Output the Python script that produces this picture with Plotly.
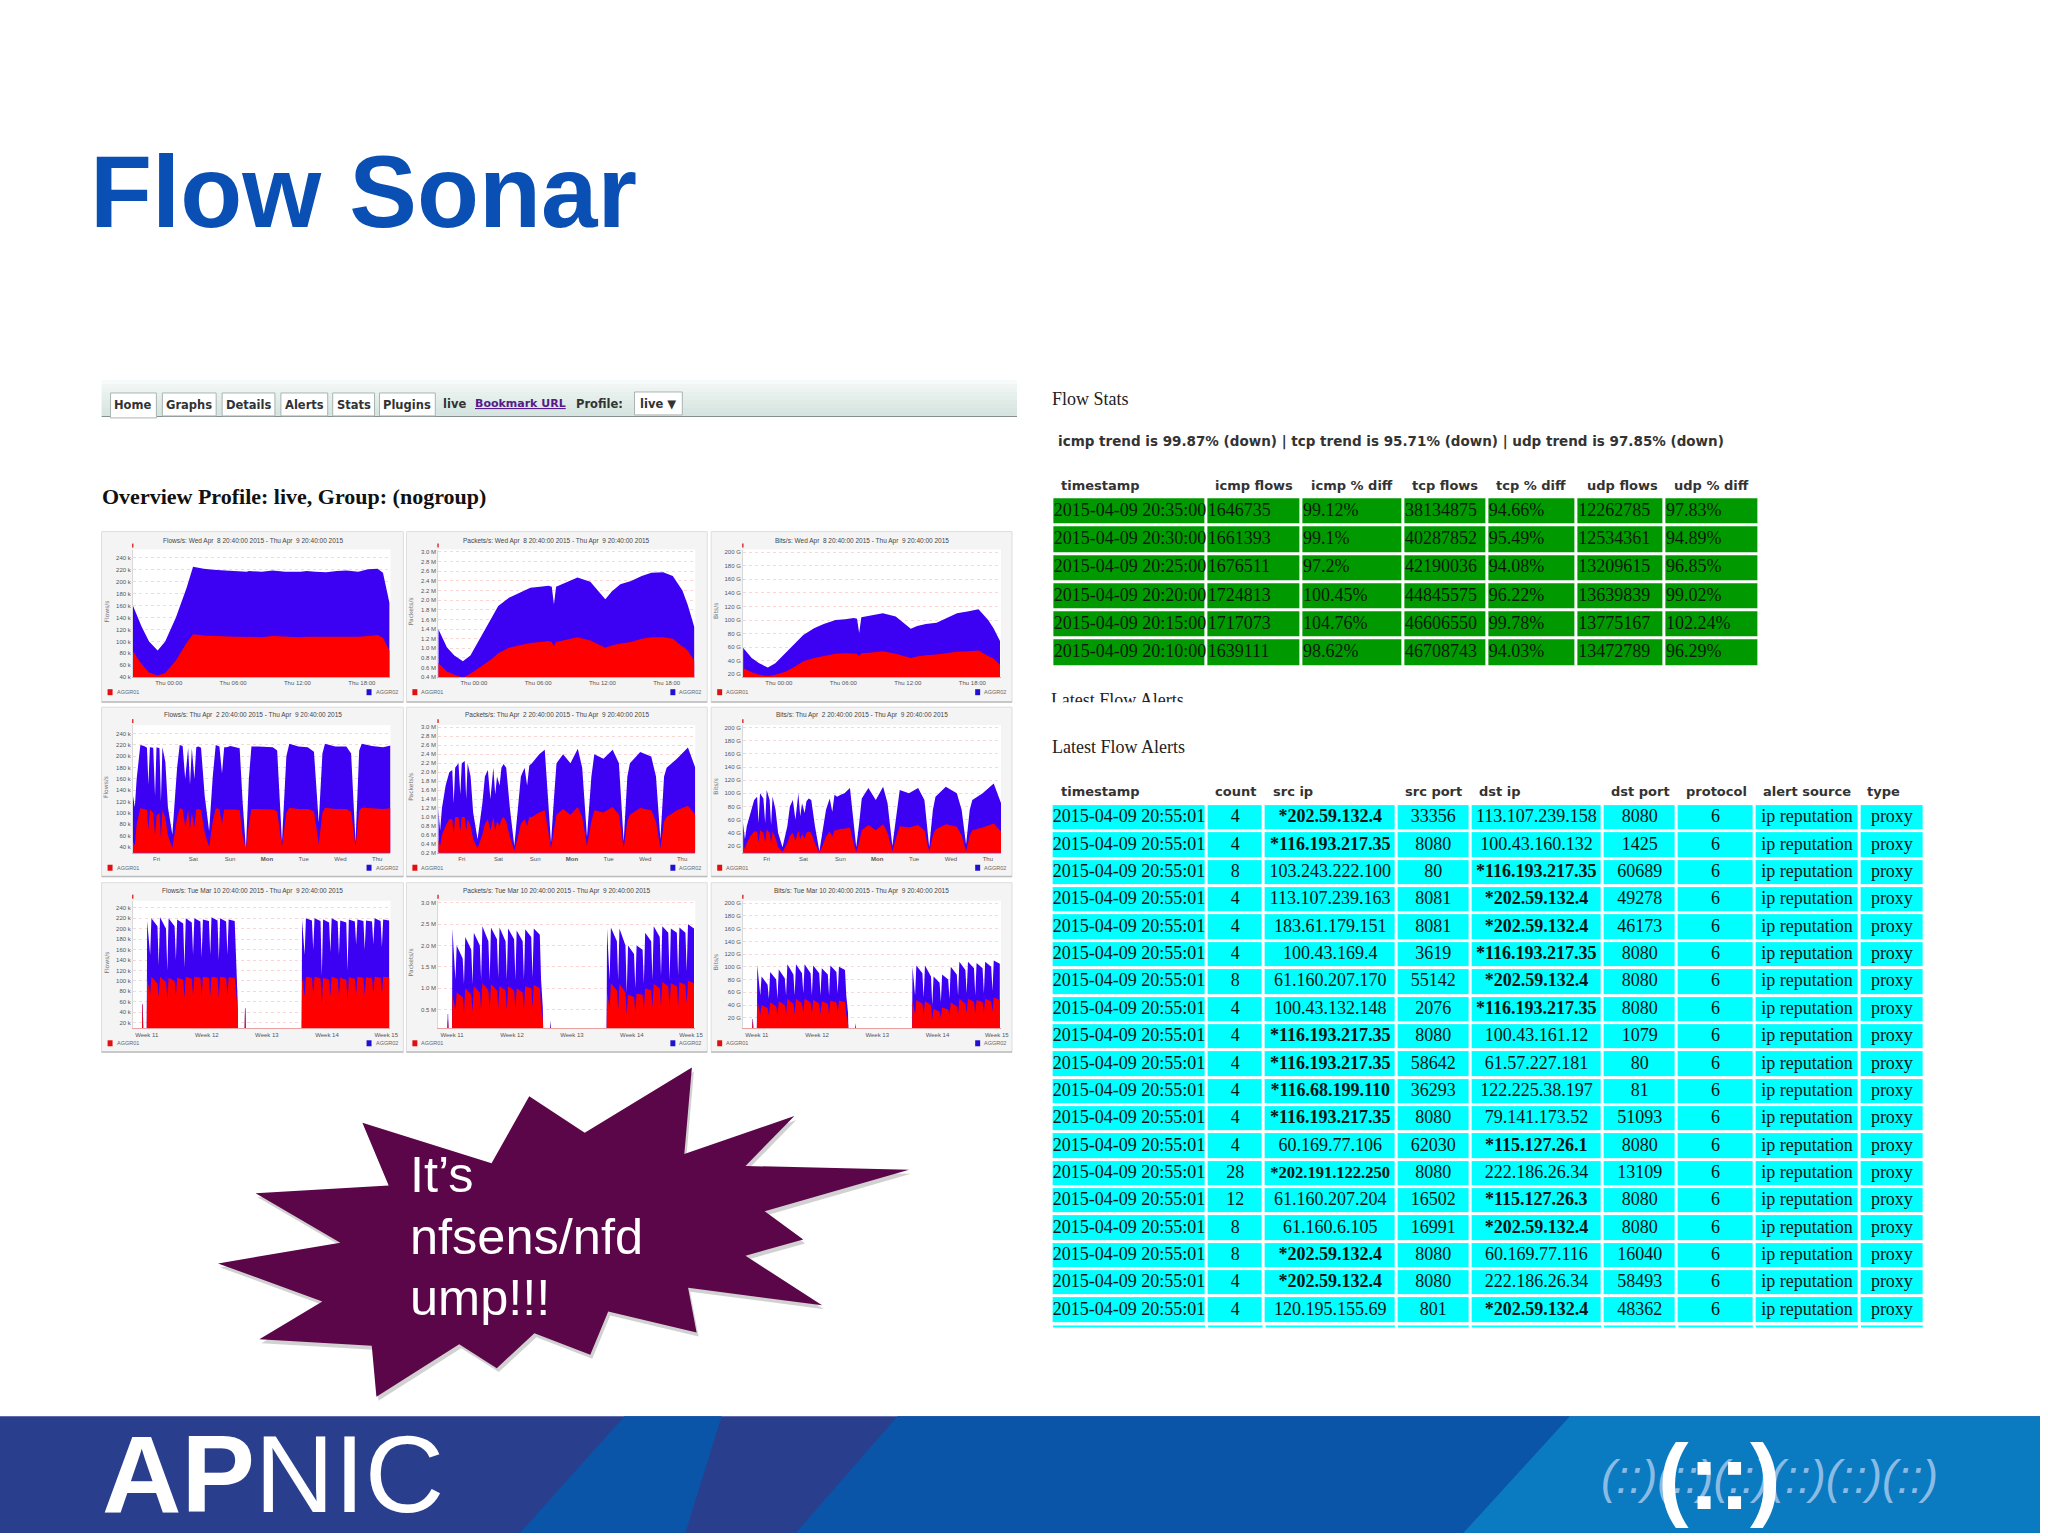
import plotly.graph_objects as go

# ---------- chart data ----------
hours_d = [0,0.8,1.5,2.3,3,4,5,5.6,6.6,7.5,8.6,9.5,10.3,10.6,10.8,11,12,13,14.2,15.6,16.2,17,18,19,19.9,21,21.9,22.8,23.3,23.9]
flows_d_total = [160,125,100,85,100,140,190,225,222,220,219,218,218,217,218,218,217,219,217,217,218,217,216,218,219,217,221,222,215,165]
flows_d_a = [83,62,48,43,47,68,98,112,110,109,108,108,108,107,108,108,107,109,108,107,108,108,107,108,108,108,109,111,106,85]
pkts_d_total = [1.4,1.02,.85,.73,.85,1.25,1.62,1.88,2.05,2.15,2.26,2.28,2.3,2.28,1.91,2.28,2.38,2.47,2.38,2.02,2.18,2.33,2.4,2.5,2.57,2.58,2.5,2.2,1.9,1.45]
pkts_d_a = [.7,.52,.45,.39,.47,.63,.78,.9,1.01,1.06,1.11,1.13,1.15,1.13,1.05,1.13,1.18,1.23,1.16,1.01,1.06,1.1,1.13,1.2,1.23,1.23,1.2,1.05,.95,.75]
bits_d_total = [59,44,36,30,36,52,68,78,88,94,100,101,103,102,81,104,107,110,105,87,91,94,96,103,110,113,116,100,88,69]
bits_d_a = [29,23,19,17,19,24,33,39,44,47,50,51,51,50,47,51,52,54,50,44,46,48,49,51,53,54,55,47,43,34]

days_w = [0,.05,.1,.2,.3,.38,.42,.46,.55,.6,.64,.72,.76,.8,.88,.95,
          1.07,1.2,1.27,1.35,1.42,1.5,1.55,1.6,1.67,1.72,1.78,1.85,1.95,
          2.07,2.17,2.25,2.35,2.42,2.48,2.55,2.65,2.75,2.9,2.98,
          3.07,3.15,3.22,3.4,3.6,3.8,3.92,
          4.05,4.17,4.25,4.5,4.75,4.92,
          5.05,5.15,5.22,5.5,5.8,5.93,
          6.05,6.15,6.22,6.5,6.8,7.0]
flows_w_total = [130,110,160,220,218,215,150,216,215,130,216,214,120,216,190,110,
                 62,180,220,218,160,215,150,214,160,216,217,215,130,
                 68,165,220,217,170,216,216,218,216,214,120,
                 36,160,217,217,217,216,210,
                 48,200,222,217,216,208,
                 83,205,222,217,217,205,
                 48,210,222,218,216,219]
flows_w_a = [50,42,80,108,107,105,70,106,100,60,95,100,55,105,90,60,
             38,90,108,107,75,105,72,100,75,106,107,105,65,
             40,85,108,107,80,106,106,107,106,105,60,
             36,80,107,107,107,106,103,
             40,100,109,107,107,103,
             45,100,109,107,107,102,
             40,104,109,108,107,108]
pkts_w_total = [1.2,.7,1.2,1.7,2.0,2.05,1.3,2.1,2.2,1.5,2.2,2.25,1.4,2.2,1.9,1.1,
                .5,1.3,1.9,2.05,1.4,2.1,1.5,1.9,1.7,2.1,2.18,2.1,1.2,
                .35,1.2,1.9,2.1,1.7,2.15,2.2,2.3,2.4,2.5,1.5,
                .42,1.4,2.2,2.4,2.2,2.52,2.1,
                .55,1.9,2.4,2.3,2.5,2.2,
                .45,1.9,2.2,2.45,2.35,1.9,
                .5,1.9,2.1,2.3,2.55,2.1]
pkts_w_a = [.5,.35,.6,.8,.95,.95,.65,1.0,1.0,.7,1.0,1.0,.7,.95,.8,.5,
            .3,.6,.85,.95,.7,1.0,.7,.9,.8,.95,1.0,.9,.55,
            .25,.55,.85,.95,.8,1.0,1.0,1.05,1.1,1.15,.7,
            .3,.7,1.05,1.18,1.05,1.22,1.0,
            .35,.9,1.15,1.1,1.22,1.05,
            .3,.9,1.05,1.2,1.15,.9,
            .3,.9,1.0,1.15,1.25,1.05]
bits_w_total = [55,30,50,72,90,95,55,100,92,55,105,90,52,95,75,40,
                18,50,80,90,60,100,65,85,70,88,92,90,50,
                12,45,75,92,72,98,95,98,100,108,60,
                18,55,92,108,90,110,85,
                20,75,105,100,108,90,
                18,75,95,110,100,75,
                22,75,90,100,115,85]
bits_w_a = [25,15,24,35,42,42,25,44,40,25,45,40,24,42,32,18,
            11,24,36,40,28,44,30,38,32,40,42,40,24,
            10,22,34,42,34,44,44,46,46,48,28,
            11,26,44,52,44,53,40,
            12,36,50,48,52,44,
            11,36,45,53,49,36,
            12,36,44,48,54,42]

days_m = [0,1.05,1.1,1.15,1.2,1.6,1.65,
          2,2.15,2.85,3,3.15,3.85,4,4.15,4.85,5,5.15,5.85,6,6.15,6.85,
          7,7.15,7.85,8,8.15,8.85,9,9.15,9.85,10,10.15,10.85,11,11.15,11.85,
          12,12.2,12.25,13,13.05,13.1,13.15,19.65,19.7,
          20,20.15,20.85,21,21.15,21.85,22,22.15,22.85,23,23.15,23.85,24,24.15,24.85,
          25,25.15,25.85,26,26.15,26.85,27,27.15,27.85,28,28.15,28.85,29,29.15,29.85]
flows_m_total = [0,0,55,55,0,0,215,
                 150,220,205,130,222,200,120,220,205,140,218,210,125,220,212,
                 150,220,214,145,218,215,150,222,216,140,220,214,150,218,215,
                 150,60,0,0,48,48,0,0,218,
                 150,220,216,160,220,215,110,218,212,155,220,214,150,216,212,
                 120,218,214,170,218,215,160,216,214,170,220,215,165,218,216]
flows_m_a = [0,0,55,55,0,0,105,
             75,108,95,70,108,98,65,106,100,72,106,102,68,108,104,
             72,108,106,70,108,106,72,108,106,68,108,106,72,107,106,
             75,45,0,0,45,45,0,0,108,
             70,108,106,75,108,105,55,106,102,70,108,104,70,106,102,
             60,107,104,75,108,106,72,107,105,75,108,106,74,108,107]
pkts_m_total = [0,0,.4,.4,0,0,2.4,
                1.2,2.0,1.7,1.1,2.2,1.9,1.1,2.3,2.0,1.2,2.45,2.1,1.2,2.42,2.15,
                1.25,2.42,2.1,1.2,2.4,2.15,1.2,2.35,2.1,1.2,2.38,2.2,1.25,2.4,2.25,
                1.2,.55,0,0,.25,.25,0,0,2.4,
                1.2,2.42,2.1,1.2,2.4,2.0,.9,2.0,1.8,1.0,2.0,1.9,1.1,2.3,2.1,
                1.2,2.45,2.2,1.3,2.45,2.3,1.2,2.4,2.3,1.3,2.42,2.3,1.4,2.5,2.4]
pkts_m_a = [0,0,.25,.25,0,0,.85,
            .5,.9,.8,.45,1.0,.85,.45,1.05,.9,.5,1.12,.95,.5,1.1,.95,
            .55,1.05,.95,.5,1.05,.95,.5,1.0,.9,.5,1.05,1.0,.55,1.08,1.0,
            .55,.3,0,0,.15,.15,0,0,.9,
            .55,1.12,.95,.5,1.1,.9,.4,.85,.8,.45,.88,.85,.5,1.0,.95,
            .55,1.1,1.0,.6,1.15,1.05,.55,1.12,1.05,.6,1.15,1.08,.65,1.18,1.12]
bits_m_total = [0,0,18,18,0,0,103,
                55,85,72,50,92,80,50,96,82,55,104,88,55,104,90,
                58,104,90,55,102,90,55,98,88,55,102,92,58,100,95,
                55,28,0,0,12,12,0,0,100,
                55,102,90,52,102,85,40,85,75,45,88,80,50,100,88,
                55,108,95,58,108,98,55,106,98,58,108,100,62,110,105]
bits_m_a = [0,0,14,14,0,0,48,
            25,40,35,24,44,38,24,46,40,26,50,42,26,50,43,
            28,50,44,26,48,43,26,46,42,26,47,44,28,47,45,
            25,12,0,0,8,8,0,0,46,
            26,48,42,24,46,40,18,34,30,20,36,33,24,44,38,
            26,50,42,28,50,45,26,48,45,28,50,46,30,52,48]

ticks_d_pos = [3.33,9.33,15.33,21.33]
ticks_d_txt = ["Thu 00:00","Thu 06:00","Thu 12:00","Thu 18:00"]
ticks_w_pos = [0.64,1.64,2.64,3.64,4.64,5.64,6.64]
ticks_w_txt = ["Fri","Sat","Sun","<b>Mon</b>","Tue","Wed","Thu"]
ticks_m_pos = [1.6,8.6,15.6,22.6,29.5]
ticks_m_txt = ["Week 11","Week 12","Week 13","Week 14","Week 15"]

title_ranges = ["Wed Apr  8 20:40:00 2015 - Thu Apr  9 20:40:00 2015",
                "Thu Apr  2 20:40:00 2015 - Thu Apr  9 20:40:00 2015",
                "Tue Mar 10 20:40:00 2015 - Thu Apr  9 20:40:00 2015"]
metric_names = ["Flows/s", "Packets/s", "Bits/s"]

# Flow Stats table
fs_head = ["timestamp","icmp flows","icmp % diff","tcp flows","tcp % diff","udp flows","udp % diff"]
fs_time = ["2015-04-09 20:35:00","2015-04-09 20:30:00","2015-04-09 20:25:00","2015-04-09 20:20:00","2015-04-09 20:15:00","2015-04-09 20:10:00"]
fs_icmp = ["1646735","1661393","1676511","1724813","1717073","1639111"]
fs_icmp_d = ["99.12%","99.1%","97.2%","100.45%","104.76%","98.62%"]
fs_tcp = ["38134875","40287852","42190036","44845575","46606550","46708743"]
fs_tcp_d = ["94.66%","95.49%","94.08%","96.22%","99.78%","94.03%"]
fs_udp = ["12262785","12534361","13209615","13639839","13775167","13472789"]
fs_udp_d = ["97.83%","94.89%","96.85%","99.02%","102.24%","96.29%"]

# Latest Flow Alerts table
al_head = ["timestamp","count","src ip","src port","dst ip","dst port","protocol","alert source","type"]
al_count = ["4","4","8","4","4","4","8","4","4","4","4","4","4","28","12","8","8","4","4"]
al_src = ["<b>*202.59.132.4</b>","<b>*116.193.217.35</b>","103.243.222.100","113.107.239.163","183.61.179.151","100.43.169.4","61.160.207.170","100.43.132.148",
          "<b>*116.193.217.35</b>","<b>*116.193.217.35</b>","<b>*116.68.199.110</b>","<b>*116.193.217.35</b>","60.169.77.106","<b>*202.191.122.250</b>","61.160.207.204","61.160.6.105",
          "<b>*202.59.132.4</b>","<b>*202.59.132.4</b>","120.195.155.69"]
al_sport = ["33356","8080","80","8081","8081","3619","55142","2076","8080","58642","36293","8080","62030","8080","16502","16991","8080","8080","801"]
al_dst = ["113.107.239.158","100.43.160.132","<b>*116.193.217.35</b>","<b>*202.59.132.4</b>","<b>*202.59.132.4</b>","<b>*116.193.217.35</b>","<b>*202.59.132.4</b>","<b>*116.193.217.35</b>",
          "100.43.161.12","61.57.227.181","122.225.38.197","79.141.173.52","<b>*115.127.26.1</b>","222.186.26.34","<b>*115.127.26.3</b>","<b>*202.59.132.4</b>",
          "60.169.77.116","222.186.26.34","<b>*202.59.132.4</b>"]
al_dport = ["8080","1425","60689","49278","46173","8080","8080","8080","1079","80","81","51093","8080","13109","8080","8080","16040","58493","48362"]
al_time = "2015-04-09 20:55:01"
al_proto = "6"
al_source = "ip reputation"
al_type = "proxy"

for a, b in [(hours_d, flows_d_total),(hours_d, bits_d_a),(hours_d, pkts_d_a),(days_w, flows_w_total),(days_w, flows_w_a),(days_w, pkts_w_total),
             (days_w, pkts_w_a),(days_w, bits_w_total),(days_w, bits_w_a),(days_m, flows_m_total),(days_m, flows_m_a),(days_m, pkts_m_total),
             (days_m, pkts_m_a),(days_m, bits_m_total),(days_m, bits_m_a)]:
    assert len(a) == len(b), (len(a), len(b))

# ---------- page layout constants ----------
W, H = 2048, 1536
RED, BLUE = "#ff0000", "#3c00f2"
SERIF, SANS, VERD = "Liberation Serif", "Liberation Sans", "DejaVu Sans"
NARROW = "Liberation Sans Narrow, Liberation Sans"

fig = go.Figure()
shapes, anns = [], []

def rect(x0, y0, x1, y1, fill, line=None, lw=1, layer="below"):
    shapes.append(dict(type="rect", xref="x", yref="y", x0=x0, y0=y0, x1=x1, y1=y1, fillcolor=fill,
                       line=dict(color=line or "rgba(0,0,0,0)", width=lw if line else 0), layer=layer))

def poly(pts, fill, layer="below"):
    path = "M " + " L ".join(f"{x:.1f},{y:.1f}" for x, y in pts) + " Z"
    shapes.append(dict(type="path", xref="x", yref="y", path=path, fillcolor=fill, line=dict(width=0), layer=layer))

def ann(text, x, y, size, color="#000", family=SANS, anchor="left", angle=0):
    anns.append(dict(text=text, x=x, y=y, xref="x", yref="y", showarrow=False, xanchor=anchor, yanchor="middle",
                     font=dict(size=size, color=color, family=family), textangle=angle, borderpad=0))

# base pixel axis
fig.update_layout(xaxis=dict(domain=[0, 1], range=[0, W], visible=False, fixedrange=True),
                  yaxis=dict(domain=[0, 1], range=[H, 0], visible=False, fixedrange=True))

# ---------- title ----------
ann("<b>Flow Sonar</b>", 89, 191, 101.5, "#0a50b4")

# ---------- nfsen nav bar ----------
band = ["#f7fafa","#f1f6f5","#ecf3f1","#e8f0ee","#e4eeeb","#e0ebe8","#dce9e5","#d9e7e3","#d6e5e1"]
for i, c in enumerate(band):
    rect(102, 380 + i * 4, 1021, 380 + (i + 1) * 4 + 0.5, c)
rect(102, 416, 1021, 417, "#87908e")
tab_x = [(111,157,"Home"),(163,217,"Graphs"),(223,276,"Details"),(282,329,"Alerts"),(334,376,"Stats"),(381,437,"Plugins")]
for i, (a, b, t) in enumerate(tab_x):
    rect(a, 393, b, 418 if i == 0 else 416, "#ffffff", "#aab5b2", 1)
    ann(f"<b>{t}</b>", (a + b) / 2, 405, 11.5, "#333333", VERD, "center")
ann("<b>live</b>", 444, 404, 11.5, "#333333", VERD)
ann("<b><u>Bookmark URL</u></b>", 476, 404, 11, "#551a8b", VERD)
ann("<b>Profile:</b>", 577, 404, 11.5, "#333333", VERD)
rect(637, 392, 685, 415, "#ffffff", "#aab5b2", 1)
ann("<b>live ▼</b>", 642, 404, 11.5, "#333333", VERD)
ann("<b>Overview Profile: live, Group: (nogroup)</b>", 101, 497, 22, "#111111", SERIF)

# ---------- nine rrd panels ----------
col_card = [(102, 405), (408, 710), (714, 1016)]
col_plot = [(133.5, 392), (440, 698), (746, 1005)]
row_card = [(532, 703), (708, 878), (884, 1054)]
row_plot = [(550, 678), (726, 854), (902, 1030)]
row_title = [541, 716, 892]
row_legend = [693, 869, 1045]

flow_ticks = list(range(40, 241, 20))
panels = {
    (0, 0): (hours_d, flows_d_total, flows_d_a, [40, 254], flow_ticks, " k"),
    (0, 1): (hours_d, pkts_d_total, pkts_d_a, [0.4, 3.05], [.4,.6,.8,1.0,1.2,1.4,1.6,1.8,2.0,2.2,2.4,2.6,2.8,3.0], " M"),
    (0, 2): (hours_d, bits_d_total, bits_d_a, [15.5, 204], list(range(20, 201, 20)), " G"),
    (1, 0): (days_w, flows_w_total, flows_w_a, [29.5, 255], flow_ticks, " k"),
    (1, 1): (days_w, pkts_w_total, pkts_w_a, [0.2, 3.05], [.2,.4,.6,.8,1.0,1.2,1.4,1.6,1.8,2.0,2.2,2.4,2.6,2.8,3.0], " M"),
    (1, 2): (days_w, bits_w_total, bits_w_a, [9.5, 204], list(range(20, 201, 20)), " G"),
    (2, 0): (days_m, flows_m_total, flows_m_a, [9, 254], [20] + flow_ticks, " k"),
    (2, 1): (days_m, pkts_m_total, pkts_m_a, [0.065, 3.05], [.5,1.0,1.5,2.0,2.5,3.0], " M"),
    (2, 2): (days_m, bits_m_total, bits_m_a, [3.5, 204], list(range(20, 201, 20)), " G"),
}
row_x = [([0, 24], ticks_d_pos, ticks_d_txt), ([0, 7], ticks_w_pos, ticks_w_txt), ([0, 30], ticks_m_pos, ticks_m_txt)]

traces = []
n = 2
for (r, c), (xs, total, a, yr, yt, unit) in panels.items():
    x0, x1 = col_plot[c]
    y0, y1 = row_plot[r]
    cx0, cx1 = col_card[c]
    cy0, cy1 = row_card[r]
    rect(cx0, cy0, cx1, cy1, "#f4f4f5", "#dddddd", 1)
    rect(cx0, cy1 - 1, cx1, cy1 + 0.5, "#bcbcbc")
    rect(x0, y0, x1, y1, "#ffffff")
    xr, xtv, xtt = row_x[r]
    fig.update_layout({
        f"xaxis{n}": dict(domain=[x0 / W, x1 / W], range=xr, anchor=f"y{n}", tickvals=xtv, ticktext=xtt, ticklen=0,
                          showgrid=False, zeroline=False, showline=True, linecolor="#e9a0a0", linewidth=1,
                          tickfont=dict(size=6, color="#555555", family=NARROW), fixedrange=True),
        f"yaxis{n}": dict(domain=[1 - y1 / H, 1 - y0 / H], range=yr, anchor=f"x{n}", tickvals=yt,
                          ticktext=[(f"{v:.1f}" if unit == " M" else f"{v}") + unit for v in yt], ticklen=0,
                          showgrid=True, gridcolor="rgba(240,120,120,0.30)", griddash="dot", gridwidth=1, zeroline=False,
                          showline=True, linecolor="#d9d9d9", linewidth=1,
                          tickfont=dict(size=6, color="#555555", family=NARROW), fixedrange=True),
    })
    traces.append(go.Scatter(x=xs, y=total, mode="lines", fill="tozeroy", fillcolor=BLUE, line=dict(width=0, color=BLUE),
                             xaxis=f"x{n}", yaxis=f"y{n}", hoverinfo="skip", showlegend=False))
    traces.append(go.Scatter(x=xs, y=a, mode="lines", fill="tozeroy", fillcolor=RED, line=dict(width=0, color=RED),
                             xaxis=f"x{n}", yaxis=f"y{n}", hoverinfo="skip", showlegend=False))
    n += 1
    rect(x0 - 1, y0 - 6, x0 + 0.5, y0 - 2, "#dd3333")
    ann(f"{metric_names[c]}: {title_ranges[r]}", (cx0 + cx1) / 2, row_title[r], 6.5, "#444444", NARROW, "center")
    ann(metric_names[c], cx0 + 4.5, (y0 + y1) / 2 - 2, 6, "#777777", VERD, "center", -90)
    ly = row_legend[r]
    rect(cx0 + 6, ly - 3, cx0 + 11, ly + 3, "#e01010")
    ann("AGGR01", cx0 + 14, ly, 5.5, "#666666", NARROW)
    rect(cx1 - 37, ly - 3, cx1 - 32, ly + 3, "#2010d0")
    ann("AGGR02", cx1 - 29, ly, 5.5, "#666666", NARROW)

# ---------- Flow Stats table ----------
def grid(xe, ye, color):
    z = [[1] * (len(xe) - 1) for _ in range(len(ye) - 1)]
    traces.insert(0, go.Heatmap(x=xe, y=ye, z=z, zmin=0, zmax=1, colorscale=[[0, color], [1, color]], showscale=False,
                                xgap=3, ygap=3, hoverinfo="skip", xaxis="x", yaxis="y"))

fs_x = [1056.5, 1211, 1306.7, 1409, 1493, 1583, 1671, 1766.5]
fs_pitch = 28.35
fs_top = 497.5
fs_y = [fs_top + i * fs_pitch for i in range(len(fs_time) + 1)]
grid(fs_x, fs_y, "#009a00")
fs_cols = [fs_time, fs_icmp, fs_icmp_d, fs_tcp, fs_tcp_d, fs_udp, fs_udp_d]
tx, ty, tt = [], [], []
for ci, col in enumerate(fs_cols):
    for ri, v in enumerate(col):
        tx.append(fs_x[ci] + 1.5)
        ty.append(fs_y[ri] + fs_pitch / 2)
        tt.append(v)
traces.append(go.Scatter(x=tx, y=ty, text=tt, mode="text", textposition="middle right",
                         textfont=dict(size=18, family=SERIF, color="#0a1a0a"), hoverinfo="skip", showlegend=False, xaxis="x", yaxis="y"))
fs_hx = [1064, 1218.5, 1315, 1417, 1501, 1592, 1680]
for h, x in zip(fs_head, fs_hx):
    ann(f"<b>{h}</b>", x, 486, 13, "#333333", VERD)
ann("Flow Stats", 1055, 399, 18, "#222222", SERIF)
ann("<b>icmp trend is 99.87% (down) | tcp trend is 95.71% (down) | udp trend is 97.85% (down)</b>", 1061, 442, 13.5, "#333333", VERD)
traces.append(go.Scatter(x=[1055], y=[702], text=["Latest Flow Alerts"], mode="text", textposition="middle right",
                         textfont=dict(size=18, family=SERIF, color="#222222"), hoverinfo="skip", showlegend=False, xaxis="x", yaxis="y"))
rect(1040, 703, 1300, 722, "#ffffff", layer="above")

# ---------- Latest Flow Alerts table ----------
al_x = [1055.7, 1211.4, 1269, 1401.8, 1476, 1608.8, 1683.5, 1761.2, 1866.8, 1931.8]
al_pitch = 27.43
al_top = 805.2
n_rows = len(al_src)
al_y = [al_top + i * al_pitch for i in range(n_rows + 1)]
grid(al_x, al_y, "#00ffff")
for i in range(len(al_x) - 1):
    rect(al_x[i] + 1.5, al_y[-1] + 1.5, al_x[i + 1] - 1.5, al_y[-1] + 3.5, "#00ffff")
al_cols = [[al_time] * n_rows, al_count, al_src, al_sport, al_dst, al_dport, [al_proto] * n_rows, [al_source] * n_rows, [al_type] * n_rows]
tx, ty, tt, ts = [], [], [], []
for ci, col in enumerate(al_cols):
    for ri, v in enumerate(col):
        tx.append((al_x[ci] + al_x[ci + 1]) / 2)
        ty.append(al_y[ri] + al_pitch / 2)
        tt.append(v)
        ts.append(16.5 if len(v) > 22 else 18)
traces.append(go.Scatter(x=tx, y=ty, text=tt, mode="text", textposition="middle center",
                         textfont=dict(size=ts, family=SERIF, color="#041414"), hoverinfo="skip", showlegend=False, xaxis="x", yaxis="y"))
al_hx = [1063.7, 1219, 1276.7, 1409, 1483.6, 1616.5, 1692, 1769, 1873]
for h, x in zip(al_head, al_hx):
    ann(f"<b>{h}</b>", x, 793, 13, "#333333", VERD)
ann("Latest Flow Alerts", 1055, 748, 18, "#222222", SERIF)

# ---------- starburst ----------
burst = [(1048,58),(1032,318),(1266,204),(1162,354),(1510,365),(1203,490),(1285,575),(1162,624),(1325,773),(1040,720),
         (1058,855),(870,792),(832,922),(713,857),(633,962),(553,890),(377,1048),(367,895),(128,875),(262,762),(40,647),
         (300,585),(120,436),(403,413),(347,224),(622,346),(702,144),(820,254)]
pts = [(200 + x / 2.119, 1050 + y / 3) for x, y in burst]
poly([(x + 2, y + 4) for x, y in pts], "rgba(0,0,0,0.18)")
poly(pts, "#5a0648")
for t, y in [("It’s", 1177), ("nfsens/nfd", 1238.5), ("ump!!!", 1300)]:
    ann(t, 411, y, 50.5, "#ffffff", SANS)

# ---------- footer banner ----------
DARK, MID, LIGHT = "#2a3e8e", "#0a55a8", "#0a7bc0"
FT, FB = 1419, 1536
rect(0, FT, W, FB, DARK)
poly([(627, FT), (724.5, FT), (688, FB), (522, FB)], MID)
poly([(901, FT), (1576, FT), (1469, FB), (799, FB)], MID)
poly([(1576, FT), (W, FT), (W, FB), (1469, FB)], LIGHT)
ann("<b>AP</b>NIC", 101, 1476, 110, "#ffffff", SANS)
ann("<i>(::)(::)(::)(::)(::)(::)</i>", 1776, 1480, 46, "rgba(175,205,240,0.8)", SANS, "center")
ann("<b>(::)</b>", 1726, 1480, 92, "#ffffff", SANS, "center")

for t in traces:
    fig.add_trace(t)

fig.update_layout(width=W, height=H, autosize=False, margin=dict(l=0, r=0, t=0, b=0, pad=0),
                  paper_bgcolor="#ffffff", plot_bgcolor="rgba(0,0,0,0)", shapes=shapes, annotations=anns,
                  showlegend=False, hovermode=False)
fig.write_html("out.html", config=dict(displayModeBar=False),
               post_script="document.body.style.margin='0';document.body.style.overflow='hidden';")
